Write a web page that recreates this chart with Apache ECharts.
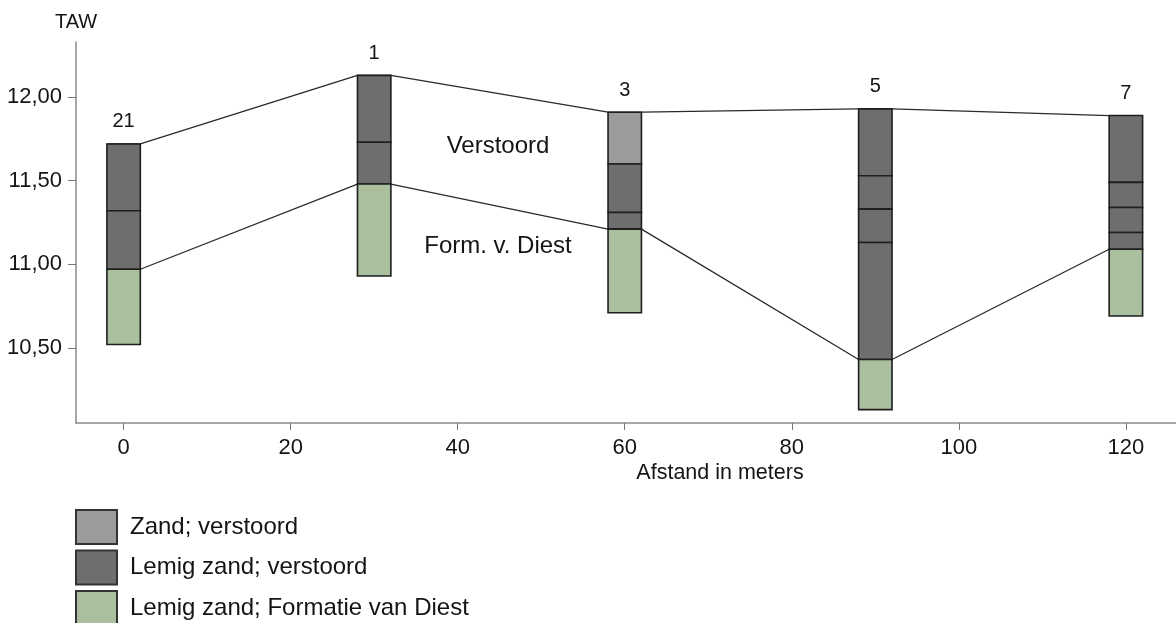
<!DOCTYPE html>
<html>
<head>
<meta charset="utf-8">
<script src="https://cdn.jsdelivr.net/npm/echarts@6/dist/echarts.min.js"></script>
<style>
    html, body { margin: 0; padding: 0; background: #fff; }
    #chart { width: 1176px; height: 623px; }
</style>
</head>
<body>
<div id="chart"></div>
<script>
// Boorprofielen (TAW, m)
var boreholeNames = ['21', '1', '3', '5', '7'];
var boreholeX = [0, 30, 60, 90, 120];

// layer boundaries from top to bottom, per borehole
var boundaries = [
    [11.72, 11.32, 10.97, 10.52],
    [12.13, 11.73, 11.48, 10.93],
    [11.91, 11.60, 11.31, 11.21, 10.71],
    [11.93, 11.53, 11.33, 11.13, 10.43, 10.13],
    [11.89, 11.49, 11.34, 11.19, 11.09, 10.69]
];

// layer type for each interval: 0 = zand verstoord, 1 = lemig zand verstoord, 2 = formatie van Diest
var layerTypes = [
    [1, 1, 2],
    [1, 1, 2],
    [0, 1, 1, 2],
    [1, 1, 1, 1, 2],
    [1, 1, 1, 1, 2]
];

var layerNames = ['Zand; verstoord', 'Lemig zand; verstoord', 'Lemig zand; Formatie van Diest'];
var layerColors = ['#9b9b9b', '#6e6e6e', '#a9bf9e'];

var xTicks = [0, 20, 40, 60, 80, 100, 120];
var yTicks = [10.5, 11.0, 11.5, 12.0];

var barHalf = 2; // half width of a column, in meters
var textColor = '#141414';
var font = '"Liberation Sans", Arial, sans-serif';

// split the profiles into layer rows per type
var layerData = [[], [], []];
boundaries.forEach(function(b, i) {
    layerTypes[i].forEach(function(t, k) {
        layerData[t].push([boreholeX[i], b[k], b[k + 1]]);
    });
});

// connection lines: surface and top of the Formatie van Diest
var topLine = [];
var diestLine = [];
boundaries.forEach(function(b, i) {
    var k = layerTypes[i].indexOf(2);
    topLine.push([boreholeX[i] - barHalf, b[0]], [boreholeX[i] + barHalf, b[0]]);
    diestLine.push([boreholeX[i] - barHalf, b[k]], [boreholeX[i] + barHalf, b[k]]);
});

var labelData = boundaries.map(function(b, i) {
    return [boreholeX[i], b[0], boreholeNames[i]];
});

function renderLayer(params, api) {
    var x = api.value(0);
    var p1 = api.coord([x - barHalf, api.value(1)]);
    var p2 = api.coord([x + barHalf, api.value(2)]);
    return {
        type: 'rect',
        shape: { x: p1[0], y: p1[1], width: p2[0] - p1[0], height: p2[1] - p1[1] },
        style: { fill: layerColors[params.seriesIndex], stroke: '#1e1e1e', lineWidth: 1.6 }
    };
}

function renderName(params, api) {
    var p = api.coord([api.value(0), api.value(1)]);
    return {
        type: 'text',
        x: p[0],
        y: p[1] - 12,
        style: {
            text: labelData[params.dataIndex][2],
            fill: textColor,
            font: '20px ' + font,
            align: 'center',
            verticalAlign: 'bottom'
        }
    };
}

var series = layerNames.map(function(name, t) {
    return {
        name: name,
        type: 'custom',
        renderItem: renderLayer,
        itemStyle: { color: layerColors[t], borderColor: '#333', borderWidth: 1.2 },
        data: layerData[t],
        z: 3,
        silent: true
    };
});

[topLine, diestLine].forEach(function(d) {
    series.push({
        type: 'line',
        data: d,
        symbol: 'none',
        lineStyle: { color: '#2a2a2a', width: 1.3 },
        z: 1,
        silent: true
    });
});

series.push({
    type: 'custom',
    renderItem: renderName,
    data: labelData,
    z: 4,
    silent: true
});

var chart = echarts.init(document.getElementById('chart'));

var option = {
    backgroundColor: '#fff',
    animation: false,
    grid: { left: 76, right: 0, top: 42, bottom: 200 },
    xAxis: {
        type: 'value',
        min: -5.7,
        max: 126,
        axisLine: { lineStyle: { color: '#8a8a8a', width: 1.5 } },
        axisTick: { show: true, length: 7, lineStyle: { color: '#777' }, customValues: xTicks },
        axisLabel: {
            customValues: xTicks,
            margin: 14,
            color: textColor,
            fontSize: 22,
            fontFamily: font
        },
        splitLine: { show: false }
    },
    yAxis: {
        type: 'value',
        min: 10.05,
        max: 12.33,
        name: 'TAW',
        nameLocation: 'end',
        nameGap: 10,
        nameTextStyle: { color: textColor, fontSize: 20, fontFamily: font, align: 'center' },
        axisLine: { show: true, onZero: false, lineStyle: { color: '#8a8a8a', width: 1.5 } },
        axisTick: { show: true, length: 8, lineStyle: { color: '#777' }, customValues: yTicks },
        axisLabel: {
            customValues: yTicks,
            margin: 14,
            color: textColor,
            fontSize: 22,
            fontFamily: font,
            formatter: function(v) { return v.toFixed(2).replace('.', ','); }
        },
        splitLine: { show: false }
    },
    legend: {
        data: layerNames,
        orient: 'vertical',
        left: 75,
        top: 509,
        height: 140,
        padding: 0,
        itemWidth: 41,
        itemHeight: 34,
        itemGap: 4.5,
        icon: 'rect',
        selectedMode: false,
        textStyle: { color: textColor, fontSize: 24, lineHeight: 30, fontFamily: font, padding: [0, 0, 0, 8] }
    },
    graphic: [
        {
            type: 'text', x: 720, y: 473,
            style: { text: 'Afstand in meters', fill: textColor, font: '21.5px ' + font, align: 'center', verticalAlign: 'middle' }
        },
        {
            type: 'text', x: 498, y: 146,
            style: { text: 'Verstoord', fill: textColor, font: '24px ' + font, align: 'center', verticalAlign: 'middle' }
        },
        {
            type: 'text', x: 498, y: 246,
            style: { text: 'Form. v. Diest', fill: textColor, font: '24px ' + font, align: 'center', verticalAlign: 'middle' }
        }
    ],
    series: series
};

chart.setOption(option);
</script>
</body>
</html>
